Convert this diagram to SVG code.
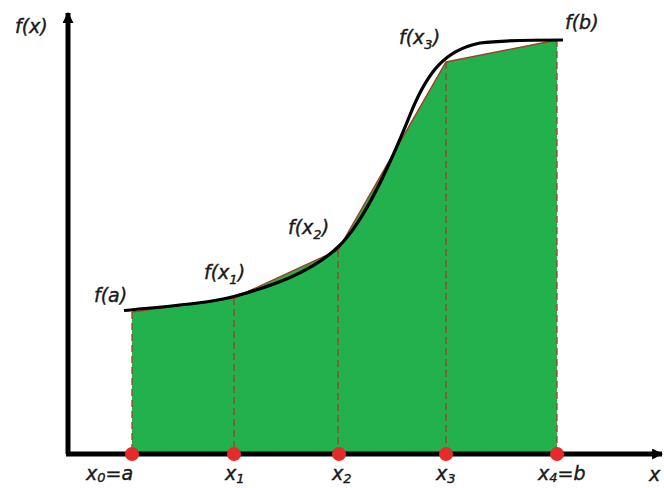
<svg xmlns="http://www.w3.org/2000/svg" width="664" height="488" viewBox="0 0 664 488">
<defs>
<style>
.lbl{font-family:"DejaVu Sans",sans-serif;font-style:oblique;font-size:19px;fill:#1a1a1a;stroke:#1a1a1a;stroke-width:0.4}
.sub{font-size:13px}
.dash{stroke:#a0402a;stroke-width:1.3;stroke-dasharray:7,4;fill:none}
.chord{stroke:#a0402a;stroke-width:1.5;fill:none}
.dot{fill:#e52b2b}
.axis{stroke:#000;stroke-width:5;fill:none}
</style>
<marker id="ah" viewBox="0 0 10 10" refX="9" refY="5" markerWidth="2.2" markerHeight="2.2" orient="auto" markerUnits="strokeWidth">
<path d="M0,0 L10,5 L0,10 z" fill="#000"/>
</marker>
</defs>
<rect width="664" height="488" fill="#fff"/>
<g id="area">
<polygon points="132,312 234,298 338,250 446,62 557,40 557,454 132,454" fill="#22b14c"/>
<polyline class="chord" points="132,312 234,298 338,250 446,62 557,40"/>
</g>
<g id="connectors">
<line class="dash" x1="132" y1="312" x2="132" y2="454"/>
<line class="dash" x1="234" y1="298" x2="234" y2="454"/>
<line class="dash" x1="338" y1="250" x2="338" y2="454"/>
<line class="dash" x1="446" y1="62" x2="446" y2="454"/>
<line class="dash" x1="557" y1="40" x2="557" y2="454"/>
</g>
<g id="curve">
<path d="M124,310.5 C170,306 210,303 234,296.5 C272,286 312,272 338,247 C365,222 392,160 412,110 C428,72 445,50 480,43 C505,40 530,40 563,40" fill="none" stroke="#000" stroke-width="3.2"/>
</g>
<g id="axes">
<line class="axis" x1="68" y1="454" x2="68" y2="13" marker-end="url(#ah)"/>
<line class="axis" x1="66" y1="454" x2="662" y2="454" marker-end="url(#ah)"/>
</g>
<g id="points">
<circle id="p0" class="dot" cx="132" cy="454" r="7"/>
<circle id="p1" class="dot" cx="234" cy="454" r="7"/>
<circle id="p2" class="dot" cx="339" cy="454" r="7"/>
<circle id="p3" class="dot" cx="446" cy="454" r="7"/>
<circle id="p4" class="dot" cx="557" cy="454" r="7"/>
</g>
<g id="labels">
<text class="lbl" x="15" y="33">f(x)</text>
<text class="lbl" x="94" y="302">f(a)</text>
<text class="lbl" x="204" y="279">f(x<tspan class="sub" dy="5">1</tspan><tspan dy="-5">)</tspan></text>
<text class="lbl" x="288" y="234">f(x<tspan class="sub" dy="5">2</tspan><tspan dy="-5">)</tspan></text>
<text class="lbl" x="399" y="44">f(x<tspan class="sub" dy="5">3</tspan><tspan dy="-5">)</tspan></text>
<text class="lbl" x="565" y="29">f(b)</text>
<text class="lbl" x="86" y="480">x<tspan class="sub" dy="2">0</tspan><tspan dy="-2">=a</tspan></text>
<text class="lbl" x="225" y="480">x<tspan class="sub" dy="3">1</tspan></text>
<text class="lbl" x="332" y="480">x<tspan class="sub" dy="3">2</tspan></text>
<text class="lbl" x="436" y="480">x<tspan class="sub" dy="3">3</tspan></text>
<text class="lbl" x="538" y="480">x<tspan class="sub" dy="2">4</tspan><tspan dy="-2">=b</tspan></text>
<text class="lbl" x="649" y="481">x</text>
</g>
</svg>
